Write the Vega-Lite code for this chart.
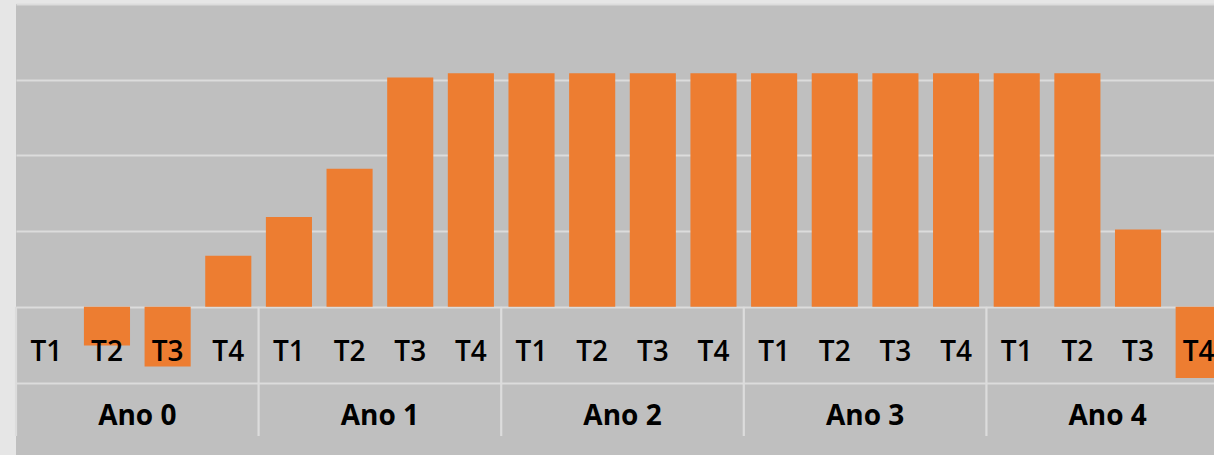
{
  "$schema": "https://vega.github.io/schema/vega-lite/v6.json",
  "autosize": {"type": "none"},
  "width": 1198,
  "height": 451,
  "padding": {"left": 16, "top": 4, "right": 0, "bottom": 0},
  "background": "#e6e6e6",
  "config": {"view": {"stroke": null, "fill": "#bfbfbf"}},
  "datasets": {
    "q": [
      {"periodo": "Ano 0 T1", "ano": "Ano 0", "trimestre": "T1", "valor": 0},
      {"periodo": "Ano 0 T2", "ano": "Ano 0", "trimestre": "T2", "valor": -0.51},
      {"periodo": "Ano 0 T3", "ano": "Ano 0", "trimestre": "T3", "valor": -0.79},
      {"periodo": "Ano 0 T4", "ano": "Ano 0", "trimestre": "T4", "valor": 0.675},
      {"periodo": "Ano 1 T1", "ano": "Ano 1", "trimestre": "T1", "valor": 1.186},
      {"periodo": "Ano 1 T2", "ano": "Ano 1", "trimestre": "T2", "valor": 1.824},
      {"periodo": "Ano 1 T3", "ano": "Ano 1", "trimestre": "T3", "valor": 3.03},
      {"periodo": "Ano 1 T4", "ano": "Ano 1", "trimestre": "T4", "valor": 3.085},
      {"periodo": "Ano 2 T1", "ano": "Ano 2", "trimestre": "T1", "valor": 3.085},
      {"periodo": "Ano 2 T2", "ano": "Ano 2", "trimestre": "T2", "valor": 3.085},
      {"periodo": "Ano 2 T3", "ano": "Ano 2", "trimestre": "T3", "valor": 3.085},
      {"periodo": "Ano 2 T4", "ano": "Ano 2", "trimestre": "T4", "valor": 3.085},
      {"periodo": "Ano 3 T1", "ano": "Ano 3", "trimestre": "T1", "valor": 3.085},
      {"periodo": "Ano 3 T2", "ano": "Ano 3", "trimestre": "T2", "valor": 3.085},
      {"periodo": "Ano 3 T3", "ano": "Ano 3", "trimestre": "T3", "valor": 3.085},
      {"periodo": "Ano 3 T4", "ano": "Ano 3", "trimestre": "T4", "valor": 3.085},
      {"periodo": "Ano 4 T1", "ano": "Ano 4", "trimestre": "T1", "valor": 3.085},
      {"periodo": "Ano 4 T2", "ano": "Ano 4", "trimestre": "T2", "valor": 3.085},
      {"periodo": "Ano 4 T3", "ano": "Ano 4", "trimestre": "T3", "valor": 1.02},
      {"periodo": "Ano 4 T4", "ano": "Ano 4", "trimestre": "T4", "valor": -0.94}
    ],
    "anos": [
      {"ano": "Ano 0"}, {"ano": "Ano 1"}, {"ano": "Ano 2"}, {"ano": "Ano 3"}, {"ano": "Ano 4"}
    ]
  },
  "resolve": {"scale": {"x": "independent"}},
  "layer": [
    {
      "data": {"name": "q"},
      "mark": {"type": "bar", "color": "#ED7D31"},
      "encoding": {
        "x": {"field": "periodo", "type": "nominal", "sort": null, "axis": null,
              "scale": {"type": "band", "range": [0, 1213], "paddingInner": 0.24, "paddingOuter": 0.12}},
        "y": {"field": "valor", "type": "quantitative",
              "scale": {"domain": [-1, 4], "range": [378.5, 0], "nice": false, "zero": false},
              "axis": {"values": [-1, 0, 1, 2, 3, 4], "labels": false, "ticks": false, "domain": false, "title": null,
                       "grid": true, "gridColor": "#dcdcdc", "gridWidth": 2.2, "gridOpacity": 1}}
      }
    },
    {
      "data": {"name": "anos"},
      "mark": {"type": "rule", "color": "#dcdcdc", "strokeWidth": 2.2},
      "encoding": {
        "x": {"field": "ano", "type": "nominal", "sort": null, "axis": null, "bandPosition": 0,
              "scale": {"type": "band", "range": [0, 1213], "padding": 0}},
        "y": {"datum": 0},
        "y2": {"datum": -1.707}
      }
    },
    {
      "data": {"name": "q"},
      "mark": {"type": "text", "font": "Open Sans", "fontSize": 28, "fontWeight": 600, "color": "#000000", "baseline": "alphabetic", "align": "center"},
      "encoding": {
        "x": {"field": "periodo", "type": "nominal", "sort": null, "axis": null, "bandPosition": 0.5,
              "scale": {"type": "band", "range": [0, 1213], "paddingInner": 0.24, "paddingOuter": 0.12}},
        "y": {"datum": -0.716},
        "text": {"field": "trimestre"}
      }
    },
    {
      "data": {"name": "anos"},
      "mark": {"type": "text", "font": "Open Sans", "fontSize": 28, "fontWeight": "bold", "color": "#000000", "baseline": "alphabetic", "align": "center"},
      "encoding": {
        "x": {"field": "ano", "type": "nominal", "sort": null, "axis": null, "bandPosition": 0.5,
              "scale": {"type": "band", "range": [0, 1213], "padding": 0}},
        "y": {"datum": -1.555},
        "text": {"field": "ano"}
      }
    }
  ]
}
